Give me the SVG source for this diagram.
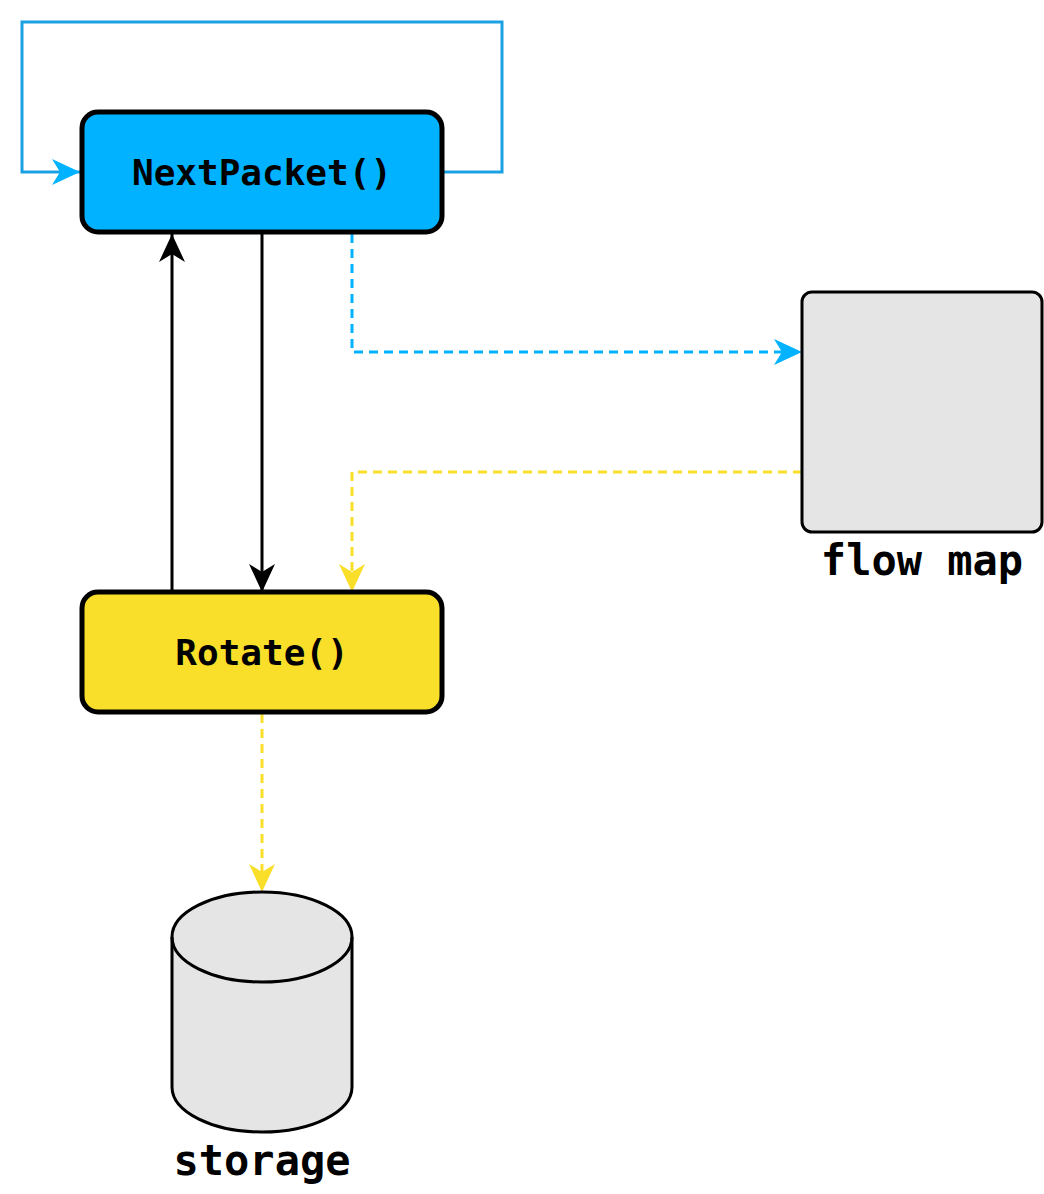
<svg xmlns="http://www.w3.org/2000/svg" width="1044" height="1194" viewBox="0 0 1044 1194">
<style>
.lbl{font-family:"DejaVu Sans Mono","Liberation Mono",monospace;font-weight:bold;fill:#000;text-anchor:middle}
.proc{stroke:#000;stroke-width:5}
.store{fill:#e5e5e5;stroke:#000;stroke-width:3}
.c{fill:none;stroke-width:3}
.dash{stroke-dasharray:9 6}
</style>
<defs>
<marker id="aBlk" markerUnits="userSpaceOnUse" viewBox="0 0 28 26" refX="28" refY="13" markerWidth="28" markerHeight="26" orient="auto"><path d="M0,0 L28,13 L0,26 L8,13 Z" fill="#000"/></marker>
<marker id="aBlu" markerUnits="userSpaceOnUse" viewBox="0 0 28 26" refX="28" refY="13" markerWidth="28" markerHeight="26" orient="auto"><path d="M0,0 L28,13 L0,26 L8,13 Z" fill="#00b2ff"/></marker>
<marker id="aYel" markerUnits="userSpaceOnUse" viewBox="0 0 28 26" refX="28" refY="13" markerWidth="28" markerHeight="26" orient="auto"><path d="M0,0 L28,13 L0,26 L8,13 Z" fill="#fadf2a"/></marker>
</defs>
<g id="connectors">
<path class="c" stroke="#1ba1e2" d="M442,172 H502 V22 H22 V172 H80" marker-end="url(#aBlu)"/>
<path class="c" stroke="#000" d="M172,592 V234" marker-end="url(#aBlk)"/>
<path class="c" stroke="#000" d="M262,232 V592" marker-end="url(#aBlk)"/>
<path class="c dash" stroke="#00b2ff" d="M352,234 V352 H802" marker-end="url(#aBlu)"/>
<path class="c dash" stroke="#fadf2a" d="M802,472 H352 V592" marker-end="url(#aYel)"/>
<path class="c dash" stroke="#fadf2a" d="M262,714 V892" marker-end="url(#aYel)"/>
</g>
<g id="nextpacket">
<rect class="proc" x="82" y="112" width="360" height="120" rx="16" fill="#00b2ff"/>
<text class="lbl" x="262" y="185" font-size="36">NextPacket()</text>
</g>
<g id="rotate">
<rect class="proc" x="82" y="592" width="360" height="120" rx="16" fill="#fadf2a"/>
<text class="lbl" x="262" y="665" font-size="36">Rotate()</text>
</g>
<g id="flowmap">
<rect class="store" x="802" y="292" width="240" height="240" rx="10"/>
<text class="lbl" x="922" y="575" font-size="42">flow map</text>
</g>
<g id="storage">
<path class="store" d="M172,937 A90,45 0 0 1 352,937 V1087 A90,45 0 0 1 172,1087 Z"/>
<path fill="none" stroke="#000" stroke-width="3" d="M172,937 A90,45 0 0 0 352,937"/>
<text class="lbl" x="262" y="1175" font-size="42">storage</text>
</g>
</svg>
